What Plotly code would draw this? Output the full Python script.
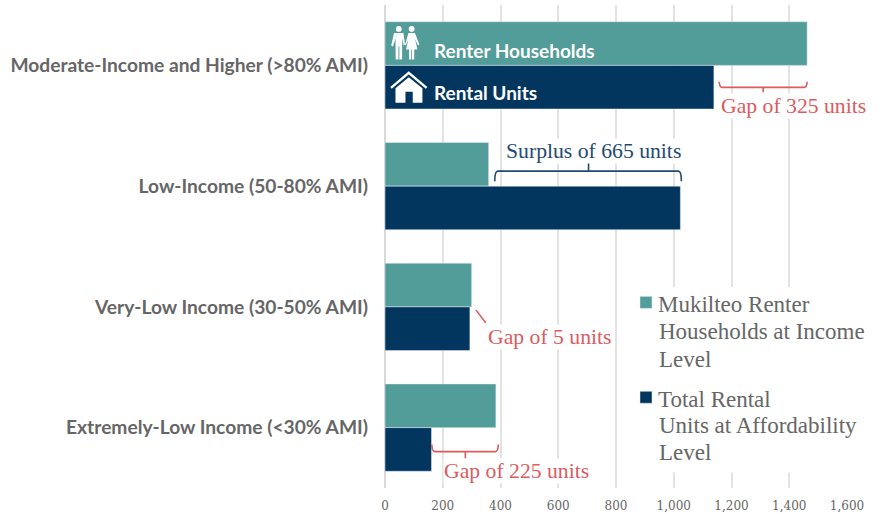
import plotly.graph_objects as go

categories = ["Moderate-Income and Higher (>80% AMI)", "Low-Income (50-80% AMI)",
              "Very-Low Income (30-50% AMI)", "Extremely-Low Income (<30% AMI)"]
renter_households = [1462, 359, 300, 384]
rental_units = [1139, 1023, 294, 161]
tick_values = [0, 200, 400, 600, 800, 1000, 1200, 1400, 1600]
tick_labels = ["0", "200", "400", "600", "800", "1,000", "1,200", "1,400", "1,600"]

W, H = 882, 514
L, R, T, B = 384.5, 847.5, 4.5, 488.5
TEAL, NAVY, RED, BLUE = "#529C99", "#03365F", "#DC5B5E", "#1E4A72"
GREY = "#666666"
SERIF = "Liberation Serif"
SANS = "Lato"


def px(x):
    return (x - L) / (R - L)


def py(y):
    return (B - y) / (B - T)


def path(cmds):
    out = []
    for c in cmds:
        if c == "Z":
            out.append("Z")
        else:
            op, *pts = c
            out.append(op + " ".join(f"{px(pts[i]):.5f},{py(pts[i+1]):.5f}" for i in range(0, len(pts), 2)))
    return " ".join(out)


def line_shape(cmds, color, width=1.6):
    return dict(type="path", xref="paper", yref="paper", path=path(cmds),
                line=dict(color=color, width=width), layer="above")


def fill_shape(cmds, color="white"):
    return dict(type="path", xref="paper", yref="paper", path=path(cmds),
                fillcolor=color, line=dict(color=color, width=0), layer="above")


def circle(cx, cy, r, color="white"):
    return dict(type="circle", xref="paper", yref="paper", x0=px(cx - r), x1=px(cx + r),
                y0=py(cy + r), y1=py(cy - r), fillcolor=color, line=dict(width=0), layer="above")


def bracket(x0, x1, ytop, ybar, ystem, xstem, color):
    r = 2
    return line_shape([("M", x0, ytop), ("Q", x0, ybar, x0 + r + 1, ybar), ("L", x1 - r - 1, ybar),
                       ("Q", x1, ybar, x1, ytop), ("M", xstem, ybar), ("L", xstem, ystem)], color)


def label(text, x, y, color, size, family=SERIF, anchor="left", bg="white", weight=None):
    font = dict(family=family, size=size, color=color)
    if weight:
        font["weight"] = weight
    return dict(text=text, xref="paper", yref="paper", x=px(x), y=py(y), xanchor=anchor, yanchor="middle",
                showarrow=False, font=font, bgcolor=bg, borderpad=0)


shapes = [
    # white panel behind the legend (masks gridlines)
    dict(type="rect", xref="paper", yref="paper", x0=px(626), x1=px(880), y0=py(473), y1=py(287),
         fillcolor="white", line=dict(width=0), layer="above"),
    bracket(719.5, 807.5, 81.5, 87, 92, 763.5, RED),
    bracket(494.5, 681.5, 181, 171, 162, 588.5, BLUE),
    line_shape([("M", 475.5, 310), ("L", 485.5, 323)], RED),
    bracket(431.5, 498, 445, 452, 459, 465, RED),
    # person icons
    circle(398.3, 28.5, 2.9), circle(411.2, 28.5, 2.9),
    fill_shape([("M", 393.5, 32.5), ("L", 403, 32.5), ("L", 404.5, 44), ("L", 403.2, 45), ("L", 401.8, 38),
                ("L", 401.6, 59), ("L", 398.9, 59), ("L", 398.9, 46), ("L", 398, 46), ("L", 398, 59),
                ("L", 395.2, 59), ("L", 395, 38), ("L", 392.6, 46), ("L", 390.7, 45), "Z"]),
    fill_shape([("M", 408, 32.5), ("L", 414.5, 32.5), ("L", 419, 44), ("L", 417.5, 45), ("L", 414.6, 38.5),
                ("L", 417, 49), ("L", 413.8, 49), ("L", 413.8, 59), ("L", 411.6, 59), ("L", 411.6, 49),
                ("L", 410.8, 49), ("L", 410.8, 59), ("L", 408.6, 59), ("L", 408.6, 49), ("L", 405.6, 49),
                ("L", 408, 38.5), ("L", 405.4, 45), ("L", 404.6, 44), "Z"]),
    # house icon
    line_shape([("M", 390.5, 87.5), ("L", 408.3, 72.5), ("L", 426.2, 87.5)], "white", 2.4),
    fill_shape([("M", 408.3, 76.8), ("L", 422, 88), ("L", 422, 102.5), ("L", 412.3, 102.5), ("L", 412.3, 91.5),
                ("L", 405, 91.5), ("L", 405, 102.5), ("L", 395, 102.5), ("L", 395, 88), "Z"]),
]

annotations = [
    label("Renter Households", 433, 50, "white", 19, SANS, bg="rgba(0,0,0,0)", weight=700),
    label("Rental Units", 433, 92, "white", 19, SANS, bg="rgba(0,0,0,0)", weight=700),
    label("Gap of 325 units", 720.5, 106, RED, 21.7),
    label("Surplus of 665 units", 505, 151, BLUE, 21.7),
    label("Gap of 5 units", 486.5, 337, RED, 21.7),
    label("Gap of 225 units", 442.5, 471, RED, 21.7),
    label("Households at Income", 658, 332, GREY, 23, bg="rgba(0,0,0,0)"),
    label("Level", 658, 360, GREY, 23, bg="rgba(0,0,0,0)"),
    label("Units at Affordability", 658, 426, GREY, 23, bg="rgba(0,0,0,0)"),
    label("Level", 658, 453, GREY, 23, bg="rgba(0,0,0,0)"),
]

fig = go.Figure()
fig.add_bar(y=categories, x=renter_households, orientation="h", marker_color=TEAL, legendgroup="a",
            name="Mukilteo Renter")
fig.add_bar(y=categories, x=rental_units, orientation="h", marker_color=NAVY, legendgroup="b",
            name="Total Rental")

fig.update_layout(
    width=W, height=H, autosize=False, barmode="group", bargap=0.277, bargroupgap=0,
    margin=dict(l=L, r=W - R, t=T, b=H - B, pad=0),
    paper_bgcolor="white", plot_bgcolor="white",
    xaxis=dict(range=[0, 1600], tickvals=tick_values, ticktext=tick_labels, showgrid=True, automargin=False,
               gridcolor="#E3E3E3", gridwidth=1.5, zeroline=True, zerolinecolor="#D9D9D9", zerolinewidth=1.5,
               showline=False, ticks="", ticklabelstandoff=9,
               tickfont=dict(family="DejaVu Serif", size=12, color=GREY)),
    yaxis=dict(categoryorder="array", categoryarray=categories, autorange="reversed", showgrid=False,
               automargin=False, zeroline=False, showline=False, ticks="", ticklabelstandoff=16,
               tickfont=dict(family=SANS, size=19.2, color=GREY, weight=700)),
    legend=dict(x=px(618), y=py(282), xanchor="left", yanchor="top",
                bgcolor="rgba(0,0,0,0)", font=dict(family=SERIF, size=23, color=GREY), traceorder="grouped",
                tracegroupgap=62, itemclick=False, itemdoubleclick=False, itemwidth=30),
    shapes=shapes, annotations=annotations,
)
post = ("document.body.style.margin='0';document.documentElement.style.overflow='hidden';"
        "document.querySelectorAll('.legend .legendpoints').forEach(function(g){"
        "g.setAttribute('transform','translate(8,-1)');});")
fig.write_html("out.html", config=dict(displayModeBar=False), post_script=post)
